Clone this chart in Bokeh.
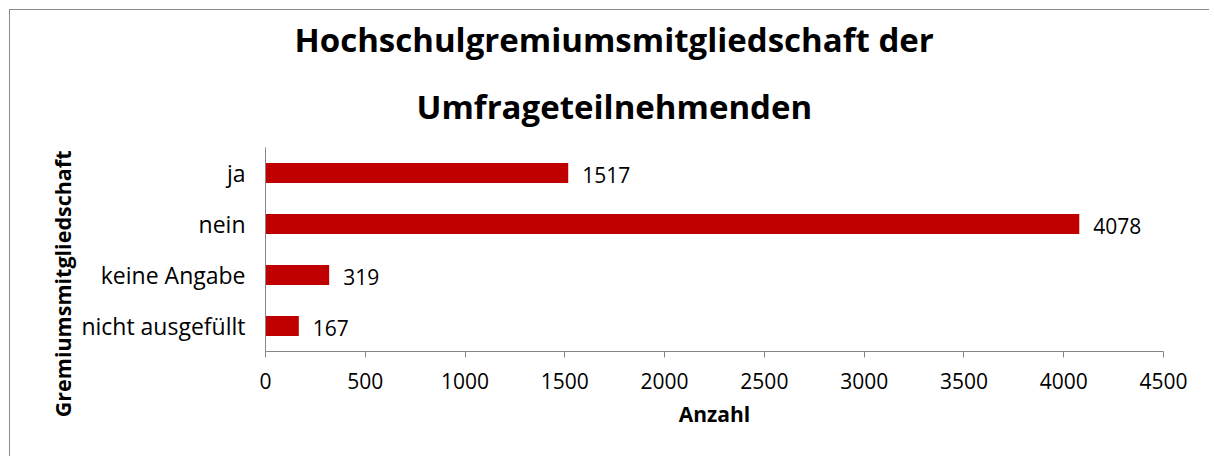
from bokeh.plotting import figure
from bokeh.models import ColumnDataSource, LabelSet, Title, FactorRange, FixedTicker, Range1d
from bokeh.core.properties import value
from bokeh.embed import file_html
from bokeh.resources import INLINE

categories = ["ja", "nein", "keine Angabe", "nicht ausgefüllt"]
counts = [1517, 4078, 319, 167]
x_ticks = [0, 500, 1000, 1500, 2000, 2500, 3000, 3500, 4000, 4500]
title_lines = ["Hochschulgremiumsmitgliedschaft der", "Umfrageteilnehmenden"]
x_title = "Anzahl"
y_title = "Gremiumsmitgliedschaft"

FONT = "Open Sans"
BAR_COLOR = "#C00000"
AXIS_COLOR = "#868686"
BORDER_COLOR = "#8a8a8a"

source = ColumnDataSource(data=dict(
    cat=categories,
    val=counts,
    lab=[str(v) for v in counts],
))

p = figure(
    width=1204, height=447,
    y_range=FactorRange(factors=list(reversed(categories)), range_padding=0),
    x_range=Range1d(0, 4500),
    output_backend="svg", toolbar_location=None,
    min_border_left=255, min_border_right=51,
    min_border_top=137, min_border_bottom=106,
)
p.styles = {
    "margin-left": "9px", "margin-top": "9px",
    "border-top": f"1px solid {BORDER_COLOR}",
    "border-left": f"1px solid {BORDER_COLOR}",
    "clip-path": "inset(0px 4px 0px 0px)",
}

p.hbar(y="cat", right="val", left=0, height=0.39, source=source,
       fill_color=BAR_COLOR, line_color=None)

labels = LabelSet(x="val", y="cat", text="lab", source=source,
                  x_offset=14, y_offset=-2, text_baseline="middle", text_align="left",
                  text_font=value(FONT), text_font_size="21px", text_color="black")
p.add_layout(labels)

# Title: first line is the figure title (outer), second line is stacked nearer the plot
p.title.text = title_lines[0]
p.title.align = "left"
p.title.vertical_align = "top"
p.title.offset = 29
p.title.text_font = FONT
p.title.text_font_size = "33px"
p.title.text_font_style = "bold"
p.title.text_color = "black"
p.title.standoff = 6
p.add_layout(Title(text=title_lines[1], align="left", vertical_align="top", offset=151,
                   text_font=FONT, text_font_size="33px", text_font_style="bold",
                   text_color="black", standoff=34), "above")

# Y axis title on the left side
p.add_layout(Title(text=y_title, align="right", offset=3,
                   text_font=FONT, text_font_size="21.5px", text_font_style="bold",
                   text_color="black", standoff=4), "left")

p.outline_line_color = None
p.grid.grid_line_color = None
p.background_fill_color = "white"
p.border_fill_color = "white"

xa = p.xaxis[0]
xa.ticker = FixedTicker(ticks=x_ticks)
xa.minor_tick_line_color = None
xa.major_tick_out = 6
xa.major_tick_in = 0
xa.axis_line_color = AXIS_COLOR
xa.major_tick_line_color = AXIS_COLOR
xa.major_label_text_font = FONT
xa.major_label_text_font_size = "21px"
xa.major_label_text_color = "black"
xa.major_label_standoff = 15
xa.axis_label = x_title
xa.axis_label_text_font = FONT
xa.axis_label_text_font_size = "21px"
xa.axis_label_text_font_style = "bold"
xa.axis_label_text_color = "black"
xa.axis_label_standoff = 8

ya = p.yaxis[0]
ya.major_tick_out = 0
ya.major_tick_in = 0
ya.axis_line_color = AXIS_COLOR
ya.major_label_text_font = FONT
ya.major_label_text_font_size = "23px"
ya.major_label_text_color = "black"
ya.major_label_standoff = 20

open("out.html", "w").write(file_html(p, INLINE))
